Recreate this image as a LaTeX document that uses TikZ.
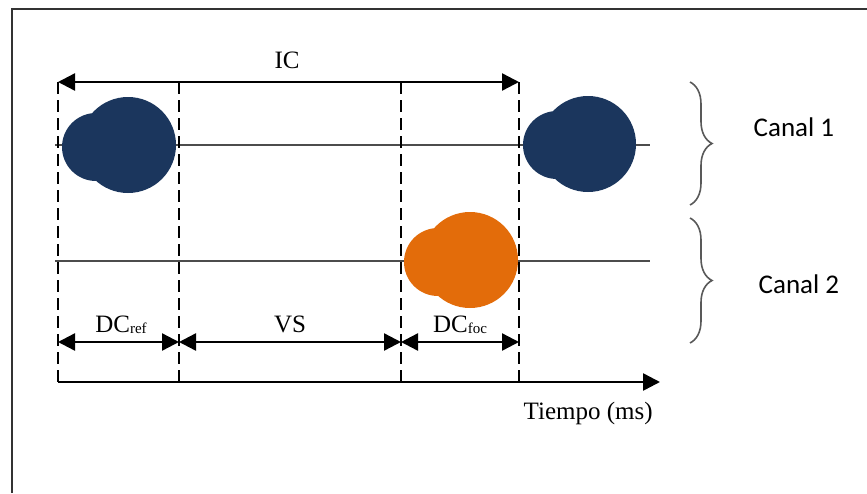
\documentclass[tikz,border=0pt]{standalone}
\usepackage{fontspec}
\setmainfont{Liberation Serif}
\newfontfamily\canalfont{Carlito}
\usepackage{xcolor}
\usetikzlibrary{arrows.meta,decorations.pathreplacing}
\definecolor{canalblue}{HTML}{1B365D}
\definecolor{canalorange}{HTML}{E36C0A}

\begin{document}
\begin{tikzpicture}[x=1pt,y=-1pt,thick,
                    blue node/.style={circle,fill=canalblue,inner sep=0pt},
                    orange node/.style={circle,fill=canalorange,inner sep=0pt},
                    dash line/.style={line width=2.8pt,dash pattern=on 12pt off 6pt},
                    dim line/.style={line width=2.4pt,{Triangle[length=17pt,width=17pt]}-{Triangle[length=17pt,width=17pt]}},
                    chan line/.style={line width=1.6pt,black!70},
                    label node/.style={font=\fontsize{25}{28}\selectfont,anchor=base},
                    canal node/.style={font=\canalfont\fontsize{27}{30}\selectfont,anchor=base west},
                    brace line/.style={decorate,decoration={brace,amplitude=22pt},line width=1.6pt,black!65}]
\useasboundingbox (0,0) rectangle (867,493);
%frame
  \draw[line width=2pt,black!80] (12,493) -- (12,9) -- (867,9);
%time marks
  \coordinate (t1) at (58,82);
  \coordinate (t2) at (179,82);
  \coordinate (t3) at (401,82);
  \coordinate (t4) at (519,82);
  \coordinate (b1) at (58,382);
  \coordinate (b2) at (179,382);
  \coordinate (b3) at (401,382);
  \coordinate (b4) at (519,382);
  \coordinate (axis end) at (660,382);
%channels
  \coordinate (c1a) at (55,145);
  \coordinate (c1b) at (650,145);
  \coordinate (c2a) at (55,261);
  \coordinate (c2b) at (650,261);
  \draw[chan line] (c1a) -- (c1b);
  \draw[chan line] (c2a) -- (c2b);
%stimuli
  \node[blue node,minimum size=68pt] (1) at (96,147) {};
  \node[blue node,minimum size=96pt] (2) at (128,145) {};
  \node[blue node,minimum size=68pt] (3) at (557,145) {};
  \node[blue node,minimum size=96pt] (4) at (588,144) {};
  \node[orange node,minimum size=68pt] (5) at (438,262) {};
  \node[orange node,minimum size=96pt] (6) at (470,260) {};
%dashed lines
  \draw[dash line] (t1) -- (b1);
  \draw[dash line] (t2) -- (b2);
  \draw[dash line] (t3) -- (b3);
  \draw[dash line] (t4) -- (b4);
%arrows
  \coordinate (d1) at (58,342);
  \coordinate (d2) at (179,342);
  \coordinate (d3) at (401,342);
  \coordinate (d4) at (519,342);
  \draw[dim line] (t1) -- (t4);
  \draw[dim line] (d1) -- (d2);
  \draw[dim line] (d2) -- (d3);
  \draw[dim line] (d3) -- (d4);
  \draw[line width=2.6pt,-{Triangle[length=17pt,width=17pt]}] (b1) -- (axis end);
%labels
  \node[label node] (IC) at (287,68) {IC};
  \node[label node] (DCref) at (121,332) {DC\raisebox{-1pt}{\fontsize{15}{15}\selectfont ref}};
  \node[label node] (VS) at (290,332) {VS};
  \node[label node] (DCfoc) at (460,332) {DC\raisebox{-1pt}{\fontsize{15}{15}\selectfont foc}};
  \node[label node,anchor=base west] (time) at (520,419) {Tiempo (ms)};
%braces
  \draw[brace line] (690,82) -- (690,205);
  \draw[brace line] (690,218) -- (690,343);
  \node[canal node] (canal1) at (750,136) {Canal 1};
  \node[canal node] (canal2) at (755,293) {Canal 2};
\end{tikzpicture}
\end{document}
